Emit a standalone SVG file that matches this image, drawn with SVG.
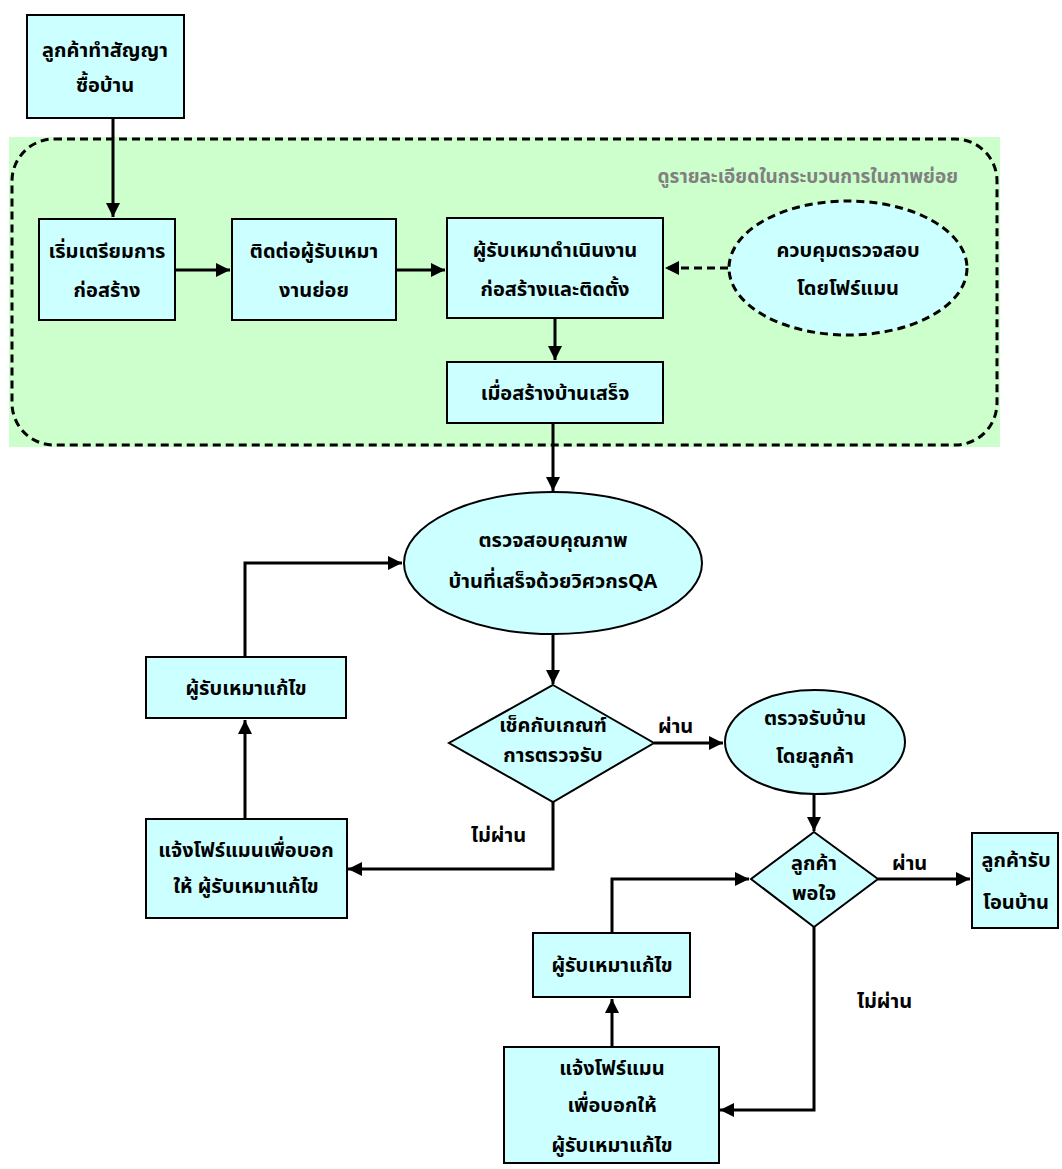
<svg xmlns="http://www.w3.org/2000/svg" width="1062" height="1169" viewBox="0 0 1062 1169">
<style>
.box{fill:#CCFFFF;stroke:#000;stroke-width:2}
.t{font-family:"Noto Sans Thai","Noto Sans","DejaVu Sans",sans-serif;font-weight:bold;font-size:20px;text-anchor:middle;fill:#000}
.lbl{font-family:"Noto Sans Thai","Noto Sans","DejaVu Sans",sans-serif;font-weight:bold;font-size:20px;fill:#000}
.c{fill:none;stroke:#000;stroke-width:3}
.d{fill:none;stroke:#000;stroke-width:3;stroke-dasharray:8 5}
</style>
<defs>
<marker id="ah" viewBox="0 0 12 12" refX="12" refY="6" markerWidth="12" markerHeight="12" markerUnits="userSpaceOnUse" orient="auto">
<path d="M0,0 L12,6 L0,12 Z" fill="#000"/>
</marker>
<marker id="ah2" viewBox="0 0 14 14" refX="14" refY="7" markerWidth="14" markerHeight="14" markerUnits="userSpaceOnUse" orient="auto">
<path d="M0,0 L14,7 L0,14 Z" fill="#000"/>
</marker>
</defs>
<rect width="1062" height="1169" fill="#fff"/>
<g id="subprocess">
<rect x="9" y="137" width="991" height="310" fill="#CCFFCC"/>
<rect x="12" y="139" width="985" height="306" rx="42" ry="42" fill="none" stroke="#000" stroke-width="3" stroke-dasharray="8 5"/>
<text x="958" y="183" style="font-family:'Noto Sans Thai','Noto Sans','DejaVu Sans',sans-serif;font-size:19px;fill:#808080;text-anchor:end;font-weight:bold">ดูรายละเอียดในกระบวนการในภาพย่อย</text>
</g>
<g id="connectors">
<path class="c" d="M113,118 V217" marker-end="url(#ah2)"/>
<path class="c" d="M175,270 H230" marker-end="url(#ah2)"/>
<path class="c" d="M396,270 H445" marker-end="url(#ah2)"/>
<path class="d" d="M728,268 H665" marker-end="url(#ah2)"/>
<path class="c" d="M555,318 V360" marker-end="url(#ah2)"/>
<path class="c" d="M553,423 V491" marker-end="url(#ah2)"/>
<path class="c" d="M553,634 V684" marker-end="url(#ah2)"/>
<path class="c" d="M245,657 V563 H402" marker-end="url(#ah2)"/>
<path class="c" d="M245,819 V720" marker-end="url(#ah2)"/>
<path class="c" d="M553,802 V869 H348" marker-end="url(#ah2)"/>
<path class="c" d="M654,743 H723" marker-end="url(#ah2)"/>
<path class="c" d="M814,794 V831" marker-end="url(#ah2)"/>
<path class="c" d="M878,879 H970" marker-end="url(#ah2)"/>
<path class="c" d="M612,933 V879 H749" marker-end="url(#ah2)"/>
<path class="c" d="M612,1047 V999" marker-end="url(#ah2)"/>
<path class="c" d="M814,927 V1110 H720" marker-end="url(#ah2)"/>
<text class="lbl" x="658" y="733">ผ่าน</text>
<text class="lbl" x="471" y="842">ไม่ผ่าน</text>
<text class="lbl" x="892" y="870">ผ่าน</text>
<text class="lbl" x="857" y="1008">ไม่ผ่าน</text>
</g>
<g id="n1"><rect class="box" x="27" y="15" width="157" height="103"/><text class="t" x="105" y="57">ลูกค้าทำสัญญา</text><text class="t" x="105" y="92">ซื้อบ้าน</text></g>
<g id="n2"><rect class="box" x="39" y="219" width="136" height="101"/><text class="t" x="107" y="258">เริ่มเตรียมการ</text><text class="t" x="107" y="297">ก่อสร้าง</text></g>
<g id="n3"><rect class="box" x="232" y="219" width="164" height="101"/><text class="t" x="314" y="258">ติดต่อผู้รับเหมา</text><text class="t" x="314" y="297">งานย่อย</text></g>
<g id="n4"><rect class="box" x="447" y="218" width="216" height="100"/><text class="t" x="555" y="257">ผู้รับเหมาดำเนินงาน</text><text class="t" x="555" y="296">ก่อสร้างและติดตั้ง</text></g>
<g id="n5"><ellipse cx="848" cy="268" rx="119" ry="67" fill="#CCFFFF" stroke="#000" stroke-width="3" stroke-dasharray="8 5"/><text class="t" x="848" y="257">ควบคุมตรวจสอบ</text><text class="t" x="848" y="295">โดยโฟร์แมน</text></g>
<g id="n6"><rect class="box" x="447" y="362" width="216" height="61"/><text class="t" x="555" y="400">เมื่อสร้างบ้านเสร็จ</text></g>
<g id="n7"><ellipse class="box" cx="553" cy="563" rx="149" ry="71"/><text class="t" x="553" y="547">ตรวจสอบคุณภาพ</text><text class="t" x="553" y="588">บ้านที่เสร็จด้วยวิศวกรQA</text></g>
<g id="n8"><rect class="box" x="146" y="657" width="200" height="61"/><text class="t" x="246" y="695">ผู้รับเหมาแก้ไข</text></g>
<g id="n9"><polygon class="box" points="553,685 654,743 553,802 449,743"/><text class="t" x="553" y="732">เช็คกับเกณฑ์</text><text class="t" x="553" y="762">การตรวจรับ</text></g>
<g id="n10"><rect class="box" x="146" y="819" width="201" height="99"/><text class="t" x="246" y="857">แจ้งโฟร์แมนเพื่อบอก</text><text class="t" x="246" y="893">ให้ ผู้รับเหมาแก้ไข</text></g>
<g id="n11"><ellipse class="box" cx="815" cy="742" rx="90" ry="52"/><text class="t" x="815" y="725">ตรวจรับบ้าน</text><text class="t" x="815" y="763">โดยลูกค้า</text></g>
<g id="n12"><polygon class="box" points="814,832 878,879 814,927 751,879"/><text class="t" x="814" y="870">ลูกค้า</text><text class="t" x="814" y="900">พอใจ</text></g>
<g id="n13"><rect class="box" x="972" y="833" width="86" height="95"/><text class="t" x="1016" y="867">ลูกค้ารับ</text><text class="t" x="1016" y="909">โอนบ้าน</text></g>
<g id="n14"><rect class="box" x="533" y="933" width="157" height="64"/><text class="t" x="612" y="972">ผู้รับเหมาแก้ไข</text></g>
<g id="n15"><rect class="box" x="504" y="1047" width="215" height="116"/><text class="t" x="612" y="1075">แจ้งโฟร์แมน</text><text class="t" x="612" y="1112">เพื่อบอกให้</text><text class="t" x="612" y="1152">ผู้รับเหมาแก้ไข</text></g>
</svg>
